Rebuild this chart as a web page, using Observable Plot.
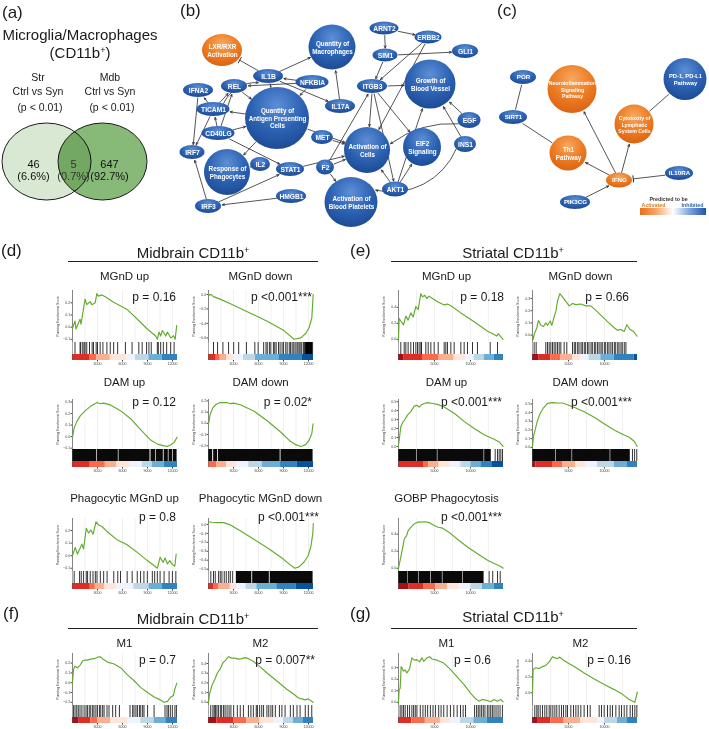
<!DOCTYPE html>
<html><head><meta charset="utf-8">
<script src="https://cdn.jsdelivr.net/npm/d3@7"></script>
<script src="https://cdn.jsdelivr.net/npm/@observablehq/plot@0.6"></script>
<style>
body{margin:0;background:#fff}
#root{position:relative;width:709px;height:729px;overflow:hidden;background:#fff;font-family:"Liberation Sans",Arial,sans-serif;color:#1a1a1a}
.t{position:absolute;white-space:nowrap;line-height:1}
sup{font-size:60%;vertical-align:0.55em;line-height:0}
</style></head><body><div id="root"></div>
<script>
const FONT = '"Liberation Sans", Arial, Helvetica, sans-serif';
const root = document.getElementById("root");

// ================= DATA =================
// (a) Venn
const vennSets = ["Str", "Mdb"];
const vennComparisons = ["Ctrl vs Syn", "Ctrl vs Syn"];
const vennThresholds = ["(p < 0.01)", "(p < 0.01)"];
const vennCounts = [46, 5, 647];
const vennPercents = ["6.6%", "0.7%", "92.7%"];

// (b) network: [id, label, x, y, w, h, prediction]
const bNodes = [
  ["LXR","LXR/RXR\nActivation",222,50,40,32,"act"],
  ["QMac","Quantity of\nMacrophages",332,47,47,45,"inh"],
  ["ARNT2","ARNT2",384,28,29,13,"inh"],
  ["ERBB2","ERBB2",428,37,27,13,"inh"],
  ["SIM1","SIM1",385,55,25,13,"inh"],
  ["GLI1","GLI1",465,51,26,14,"inh"],
  ["IL1B","IL1B",268,76,30,14,"inh"],
  ["NFKBIA","NFKBIA",312,82,33,14,"inh"],
  ["ITGB3","ITGB3",372,86,30,14,"inh"],
  ["GBV","Growth of\nBlood Vessel",430,84,51,49,"inh"],
  ["IFNA2","IFNA2",198,90,30,14,"inh"],
  ["REL","REL",234,86,26,14,"inh"],
  ["TICAM1","TICAM1",213,109,33,14,"inh"],
  ["QAPC","Quantity of\nAntigen Presenting\nCells",277,118,64,62,"inh"],
  ["IL17A","IL17A",340,106,30,14,"inh"],
  ["EGF","EGF",469,120,23,16,"inh"],
  ["CD40LG","CD40LG",218,133,33,14,"inh"],
  ["MET","MET",322,137,22,14,"inh"],
  ["ActC","Activation of\nCells",367,150,46,46,"inh"],
  ["EIF2","EIF2\nSignaling",422,147,38,38,"inh"],
  ["INS1","INS1",465,144,22,16,"inh"],
  ["IRF7","IRF7",192,152,25,14,"inh"],
  ["RespP","Response of\nPhagocytes",227,172,46,46,"inh"],
  ["IL2","IL2",260,164,20,14,"inh"],
  ["STAT1","STAT1",290,169,28,14,"inh"],
  ["F2","F2",325,167,18,15,"inh"],
  ["AKT1","AKT1",395,189,26,15,"inh"],
  ["ABP","Activation of\nBlood Platelets",351,202,53,50,"inh"],
  ["HMGB1","HMGB1",291,196,30,14,"inh"],
  ["IRF3","IRF3",208,206,26,14,"inh"]
];
// [from, to, kind (a=arrow, i=inhibits, l=line), bend]
const bEdges = [
  ["IL1B","QMac","a",0],["IL1B","LXR","i",0],["NFKBIA","IL1B","a",0],["IL1B","IL17A","a",0],
  ["NFKBIA","REL","a",0],["NFKBIA","QAPC","a",0],["IL1B","QAPC","a",0],["IL17A","QMac","a",0],
  ["TICAM1","IL1B","a",35],["TICAM1","REL","a",0],["REL","QAPC","a",0],["TICAM1","IFNA2","a",0],
  ["IFNA2","IRF7","a",0],["TICAM1","IRF7","a",0],["CD40LG","TICAM1","a",0],["CD40LG","REL","a",0],
  ["CD40LG","QAPC","a",0],["QAPC","TICAM1","a",0],["CD40LG","STAT1","a",0],["QAPC","RespP","a",0],
  ["QAPC","ActC","a",0],["IRF3","IRF7","a",0],["IRF3","STAT1","a",0],["HMGB1","IRF3","a",0],
  ["IL2","RespP","a",50],["STAT1","ActC","a",0],["MET","ActC","a",0],["F2","ABP","a",0],
  ["F2","ActC","a",0],["F2","ITGB3","a",0],["ITGB3","GBV","a",0],["ITGB3","ActC","a",0],
  ["ITGB3","AKT1","a",0],["ITGB3","EIF2","a",0],["SIM1","ITGB3","a",0],["SIM1","GLI1","a",0],
  ["ARNT2","SIM1","a",0],["ARNT2","ERBB2","a",0],["ERBB2","ITGB3","a",0],["ERBB2","ActC","a",0],
  ["EGF","GBV","a",0],["EGF","ActC","a",-20],["INS1","GBV","a",0],["INS1","ABP","a",40],
  ["AKT1","EIF2","a",0],["AKT1","GBV","a",0],["AKT1","ActC","a",0]
];

// (c) network
const cNodes = [
  ["POR","POR",523,77,26,14,"inh"],
  ["SIRT1","SIRT1",513,117,28,14,"inh"],
  ["Neuro","Neuroinflammation\nSignaling\nPathway",572,89,49,48,"act"],
  ["PD1","PD-1, PD-L1\nPathway",685,79,43,42,"inh"],
  ["Cyto","Cytotoxity of\nLymphatic\nSystem Cells",634,124,39,39,"act"],
  ["Th1","Th1\nPathway",568,153,37,35,"act"],
  ["IFNG","IFNG",619,180,26,15,"act"],
  ["IL10RA","IL10RA",679,173,28,14,"inh"],
  ["PIK3CG","PIK3CG",575,202,30,14,"inh"]
];
const cEdges = [
  ["POR","SIRT1","l",0],["SIRT1","Th1","l",0],["IFNG","Th1","a",0],["IFNG","Neuro","a",0],
  ["IFNG","Cyto","a",0],["PIK3CG","IFNG","a",0],["IL10RA","IFNG","i",0],["Cyto","PD1","l",0]
];
const legendLabels = ["Predicted to be", "Activated", "Inhibited"];

// GSEA common
const mbTicks = [3000, 6000, 9000, 12000];
const mbGrid = [1500, 3000, 4500, 6000, 7500, 9000, 10500, 12000];
const stTicks = [5000, 10000];
const stGrid = [2500, 5000, 7500, 10000, 12500];
const barColors = ["#a50f15","#de2d26","#fb6a4a","#fcae91","#fee5d9","#eff3ff","#bdd7e7","#6baed6","#3182bd","#08519c"];

// (d) Midbrain
const mbMGnDupCurve = [[0,-0.01],[300,0.05],[420,-0.015],[900,0.065],[1020,0.025],[1510,0.23],[1710,0.185],[2120,0.21],[2320,0.185],[2720,0.2],[2920,0.275],[3120,0.255],[3530,0.265],[3930,0.25],[4940,0.205],[6550,0.146],[8160,0.04],[8970,-0.015],[9980,-0.073],[10180,-0.1],[10380,-0.04],[10580,-0.073],[10790,-0.028],[11190,-0.073],[11390,-0.04],[11800,-0.09],[12120,-0.07],[12320,-0.1],[12500,0.012]];
const mbMGnDupHits = [300,910,990,1230,1390,1510,1710,2040,2360,2520,2840,3000,3320,3650,4130,4530,4940,5420,6350,7150,7960,8360,8890,9170,9450,10180,10300,10580,10900,11300,11780,12190];
const mbMGnDupDense = [];
const mbMGnDupBar = [0,0,2120,2920,4530,6550,7560,9170,10780,12600,12600];

const mbMGnDdownCurve = [[0,0.01],[120,-0.01],[300,0.0],[600,-0.03],[1400,-0.065],[3020,-0.15],[5030,-0.26],[7040,-0.37],[9060,-0.5],[10260,-0.62],[11070,-0.6],[11670,-0.54],[12080,-0.456],[12400,-0.326],[12560,0.0]];
const mbMGnDdownHits = [600,1090,1730,2410,3020,3620,4550,5560,5960,6620,6900,7050,7310,7480,7790,7950,8120,8400,8590,8830,9010,9270,9440,9690,9850,10040,10230,10400,10610,10740,10890,11080,11200,11410,11530,11720,11860,12010,12190,12350,12490];
const mbMGnDdownDense = [[11650,12500]];
const mbMGnDdownBar = [0,0,930,1410,2210,3020,4200,5640,8450,11270,12600];

const mbDAMupCurve = [[0,-0.005],[200,0.075],[520,0.13],[930,0.18],[1530,0.225],[2130,0.26],[2940,0.295],[3340,0.285],[3740,0.29],[4550,0.275],[5760,0.225],[6970,0.155],[8170,0.06],[9380,-0.03],[10190,-0.065],[10990,-0.08],[11390,-0.085],[11800,-0.07],[12200,-0.05],[12550,-0.005]];
const mbDAMupHits = [];
const mbDAMupDense = [[0,2900],[2980,5500],[5580,9300],[9420,10000],[10080,10900],[11000,11500],[11580,12000],[12080,12550]];
const mbDAMupBar = [0,0,2130,3940,5350,6970,8370,9580,10990,12600,12600];

const mbDAMdownCurve = [[0,-0.005],[200,0.08],[520,0.137],[930,0.17],[1410,0.185],[2210,0.185],[2620,0.175],[3020,0.18],[3820,0.166],[5430,0.11],[7040,0.023],[8650,-0.077],[9860,-0.163],[10460,-0.19],[11070,-0.206],[11670,-0.19],[12080,-0.15],[12400,-0.09],[12550,-0.005]];
const mbDAMdownHits = [];
const mbDAMdownDense = [[0,500],[620,1100],[1200,8600],[8700,12550]];
const mbDAMdownBar = [0,0,40,1000,2210,3420,4830,6440,8650,10660,12600];

const mbPhagUpCurve = [[0,0],[320,0.065],[600,0.013],[1130,0.092],[1330,0.053],[1650,0.218],[1930,0.18],[2210,0.205],[2460,0.17],[2820,0.27],[3140,0.245],[3540,0.232],[4150,0.192],[5350,0.126],[6560,0.087],[7770,0.026],[8980,-0.039],[9780,-0.078],[10180,-0.1],[10510,-0.013],[10870,-0.053],[11110,-0.018],[11390,-0.066],[11670,-0.039],[11990,-0.071],[12280,-0.084],[12440,0.013]];
const mbPhagUpHits = [200,850,1050,1330,1650,1810,2130,2460,2740,2940,3340,3740,4150,4950,5430,5760,6560,7160,7770,8170,8570,8980,9580,9860,10180,10510,10990,11590,11990,12400];
const mbPhagUpDense = [];
const mbPhagUpBar = [0,0,2130,2740,3900,5350,7360,9180,10800,12600,12600];

const mbPhagDownCurve = [[0,0.03],[400,0.025],[1000,0.02],[1810,0.02],[2620,-0.005],[3820,-0.07],[5430,-0.165],[7040,-0.26],[8650,-0.365],[9860,-0.455],[10340,-0.49],[10870,-0.475],[11470,-0.42],[11950,-0.35],[12280,-0.25],[12520,-0.1],[12580,0.01]];
const mbPhagDownHits = [280,600,810,1210,1410,1610,1890,2130,2420,2620,2900];
const mbPhagDownDense = [[3340,5200],[5300,7300],[7400,12550]];
const mbPhagDownBar = [0,0,600,1200,2620,3400,4500,5800,8200,10500,12600];

// (e) Striatal
const stMGnDupCurve = [[0,0],[90,0.26],[700,0.18],[1020,0.29],[1340,0.24],[1710,0.33],[2040,0.28],[2410,0.41],[2730,0.37],[3110,0.57],[3340,0.53],[3660,0.55],[3940,0.51],[4260,0.54],[4730,0.51],[5420,0.47],[6350,0.43],[6810,0.44],[7280,0.42],[8670,0.33],[10520,0.22],[12380,0.1],[13300,0.06],[13670,0.04],[13860,0.07],[14550,0.0]];
const stMGnDupHits = [320,790,1020,1340,1710,2090,2410,2640,2870,3110,3200,3800,4130,4500,4960,5520,6350,6580,6810,7280,7740,8670,9130,9590,10290,10980,12750,13770];
const stMGnDupDense = [];
const stMGnDupBar = [0,790,3340,5650,7740,9360,10520,11910,13300,14600,14600];

const stMGnDdownCurve = [[0,0],[100,-0.035],[230,0.005],[600,0.06],[830,0.12],[1160,0.08],[1530,0.07],[1850,0.1],[2090,0.08],[2460,0.115],[2690,0.08],[3010,0.15],[3240,0.19],[3480,0.28],[3800,0.34],[4080,0.32],[4400,0.295],[5100,0.24],[5560,0.26],[6030,0.25],[6720,0.255],[7420,0.24],[8110,0.24],[9040,0.19],[10430,0.11],[11360,0.06],[11820,0.04],[12280,0.045],[12750,0.03],[13120,0.085],[13580,0.045],[14040,0.03],[14550,-0.01]];
const stMGnDdownHits = [230,510,1850,2090,2320,2550,2780,3010,3240,3480,3710,3940,4400,4770,5560,5810,6000,6280,6470,6750,6930,7200,7390,7660,7850,8140,8320,8600,8790,9050,9260,9520,9700,9990,10180,10450,10640,10900,11110,11380,11570,11850,12030,12300,12480,12760,12990];
const stMGnDdownDense = [];
const stMGnDdownBar = [0,930,2550,3940,5560,6720,7880,9500,11360,14140,14600];

const stDAMupCurve = [[0,0.01],[140,0.1],[320,0.22],[600,0.27],[880,0.3],[1250,0.35],[1710,0.39],[2180,0.45],[2550,0.46],[2870,0.44],[3200,0.465],[3570,0.48],[4030,0.49],[4730,0.48],[5420,0.47],[6350,0.44],[7740,0.37],[9130,0.28],[10520,0.2],[11910,0.13],[13300,0.08],[14000,0.05],[14550,0.0]];
const stDAMupHits = [13440,13770,14000,14230,14460];
const stDAMupDense = [[0,2500],[2580,5400],[5480,11900],[11980,12900]];
const stDAMupBar = [0,0,3570,4200,5650,7280,8670,10060,11450,13070,14600];

const stDAMdownCurve = [[0,0.01],[140,0.13],[370,0.2],[700,0.31],[1070,0.39],[1530,0.455],[2090,0.505],[2780,0.515],[3480,0.51],[4170,0.51],[4870,0.49],[5790,0.46],[7190,0.41],[8580,0.345],[9970,0.27],[11360,0.2],[12520,0.15],[13440,0.115],[14140,0.07],[14550,0.01]];
const stDAMdownHits = [13900,14200,14500];
const stDAMdownDense = [[0,3200],[3280,5500],[5580,10800],[10880,13600]];
const stDAMdownBar = [0,460,2780,4170,6030,7420,9040,11360,13210,14500,14600];

const stPhagoCurve = [[0,0],[230,0.095],[560,0.23],[790,0.34],[1110,0.38],[1340,0.44],[1710,0.48],[2180,0.52],[2640,0.54],[3110,0.54],[3660,0.545],[4260,0.535],[4960,0.5],[5520,0.48],[6120,0.47],[7050,0.42],[8200,0.34],[9590,0.25],[10980,0.17],[12380,0.095],[13300,0.055],[14230,0.02],[14550,0.0]];
const stPhagoHits = [12600,13100,13770,14140];
const stPhagoDense = [[0,1250],[1320,2800],[2870,4500],[4580,6100],[6180,8900],[8980,11900]];
const stPhagoBar = [0,1480,3570,5190,6810,8440,10060,11680,13300,14600,14600];

// (f) Midbrain M1/M2
const mbM1Curve = [[0,0],[120,0.13],[280,0.17],[600,0.15],[920,0.18],[1200,0.22],[1400,0.23],[1800,0.23],[2200,0.24],[2600,0.245],[3000,0.26],[3320,0.265],[3600,0.245],[4200,0.21],[5000,0.19],[5800,0.15],[6600,0.08],[7400,0.02],[8200,-0.05],[9000,-0.1],[9800,-0.145],[10400,-0.17],[11000,-0.2],[11400,-0.19],[11800,-0.145],[12120,-0.13],[12280,-0.065],[12520,-0.005]];
const mbM1Hits = [110,300,510,690,900,1130,1390,1620,1790,2010,2190,2420,2580,2810,2990,3230,3390,3620,3790,4140,4380,4820,5180,5630,6900,7220,7380,7610,7790,8030,8190,8420,8580,9010,9790,11100,11340,11510,11740,11980,12290,12470];
const mbM1Dense = [];
const mbM1Bar = [0,800,2200,3000,4600,6600,8200,9800,11200,12600,12600];

const mbM2Curve = [[0,0],[120,0.085],[400,0.17],[800,0.245],[1080,0.305],[1400,0.345],[1720,0.405],[2000,0.43],[2400,0.47],[2800,0.455],[3200,0.455],[3600,0.445],[4000,0.45],[4400,0.46],[4800,0.45],[5400,0.42],[6200,0.365],[7000,0.305],[8200,0.22],[9400,0.135],[10200,0.085],[10800,0.045],[11200,0.035],[11600,0.025],[12000,0.035],[12280,0.015],[12560,0.0]];
const mbM2Hits = [270,530,690,830,1010,1190,1420,1580,1810,1990,2230,2470,2690,3020,3460,3810,4190,4790,5090,5380,5730,5870,6140,6390,6610,7010,7230,7490,7700,8020,8510,8810,9190,9820,10180,10620,10990,11610,11980,12390];
const mbM2Dense = [];
const mbM2Bar = [0,1000,3000,4600,6200,7800,9000,10200,11400,12600,12600];

// (g) Striatal M1/M2
const stM1Curve = [[0,0],[90,0.11],[230,0.12],[370,0.31],[700,0.27],[930,0.28],[1160,0.255],[1540,0.29],[1860,0.385],[2190,0.365],[2560,0.37],[2930,0.35],[3260,0.385],[3500,0.355],[3960,0.385],[4330,0.395],[4660,0.375],[5360,0.365],[6290,0.34],[7220,0.285],[8150,0.22],[9090,0.155],[10020,0.08],[10720,0.03],[11180,0.01],[11650,0.025],[12350,0.015],[12820,0.005],[13280,0.025],[13750,0.01],[14210,0.025],[14550,0.005]];
const stM1Hits = [230,470,700,930,1260,1540,1860,2100,2330,2560,3030,3400,3730,4050,4430,4800,5130,5590,5920,6290,6760,7220,7690,8160,8620,8990,9320,10580,10860,11090,11320,11560,11790,12020,12350,12580,12820,13050,13280,13560,13840,14120,14450];
const stM1Dense = [];
const stM1Bar = [0,0,1860,3730,5830,7220,8620,10480,12350,14600,14600];

const stM2Curve = [[0,0],[90,0.295],[460,0.315],[930,0.305],[1390,0.33],[1850,0.345],[2320,0.39],[2780,0.455],[3110,0.44],[3480,0.43],[3800,0.45],[4170,0.42],[4870,0.38],[5790,0.33],[7190,0.25],[8580,0.175],[9970,0.105],[11360,0.04],[12520,-0.02],[13440,-0.085],[14230,-0.12],[14580,0.01]];
const stM2Hits = [320,600,790,1070,1390,1710,1990,2320,2550,2830,3110,3380,3710,4030,4310,4640,4870,5330,5700,6030,6350,6720,7180,7650,8020,9270,9590,9970,10430,10800,11120,11590,12050,12380,12750,13120,13580,13900,14230,14510];
const stM2Dense = [];
const stM2Bar = [0,700,2550,4400,6720,9040,10000,11820,13210,14600,14600];

// ================= HELPERS =================
function place(el, x, y) { el.style.position = "absolute"; el.style.left = x + "px"; el.style.top = y + "px"; root.appendChild(el); return el; }
function txt(html, x, y, size, anchor = "middle", extra = {}) {
  const d = document.createElement("div"); d.className = "t"; d.innerHTML = html;
  d.style.fontSize = size + "px"; d.style.left = x + "px"; d.style.top = y + "px";
  const tx = anchor === "middle" ? "-50%" : anchor === "end" ? "-100%" : "0";
  d.style.transform = `translate(${tx},-50%)`;
  Object.assign(d.style, extra); root.appendChild(d); return d;
}
function hrule(x1, x2, y) { const d = document.createElement("div"); Object.assign(d.style, {position:"absolute", left:x1+"px", top:(y-0.75)+"px", width:(x2-x1)+"px", height:"0", borderTop:"1.5px solid #222"}); root.appendChild(d); }

// ================= (a) VENN =================
txt("(a)", 2, 12, 17, "start");
txt("Microglia/Macrophages", 80, 34, 15);
txt("(CD11b<sup>+</sup>)", 80, 52, 15);
[[38, 0], [110, 1]].forEach(([cx, i]) => {
  txt(vennSets[i], cx, 77, 10.5);
  txt(vennComparisons[i], cx, 91, 10.5);
  txt(vennThresholds[i], cx + 2, 107, 10.5);
});
const vennShapes = [
  {cx: 46.5, cy: 161.5, rx: 44.5, ry: 38.5, fill: "#d9e8d2"},
  {cx: 102.5, cy: 161.5, rx: 44.5, ry: 38.5, fill: "#87b978"}
];
const vennLabels = vennCounts.map((c, i) => ({x: [33, 73, 109][i], y: 169.5, text: `${c}\n(${vennPercents[i]})`, fill: i === 1 ? "#333" : "#111"}));
const venn = Plot.plot({
  width: 180, height: 240, margin: 0,
  x: {domain: [0, 180], axis: null}, y: {domain: [0, 240], reverse: true, axis: null},
  color: {type: "identity"},
  style: {background: "transparent", overflow: "visible", fontFamily: FONT},
  marks: [
    Plot.rect(vennShapes, {x1: d => d.cx - d.rx, x2: d => d.cx + d.rx, y1: d => d.cy - d.ry, y2: d => d.cy + d.ry, rx: 300, ry: 300, fill: d => d.fill, stroke: "#1a1a1a", strokeWidth: 1, mixBlendMode: "multiply"}),
    Plot.text(vennLabels, {x: "x", y: "y", text: "text", fill: "fill", fontSize: 11, lineHeight: 1.15})
  ]
});
place(venn, 0, 0);

// ================= (b)+(c) NETWORKS =================
txt("(b)", 180, 10, 17, "start");
txt("(c)", 497, 10, 17, "start");
const toNode = r => ({id: r[0], label: r[1], x: r[2], y: r[3], w: r[4], h: r[5], state: r[6]});
const nodes = [...bNodes, ...cNodes].map(toNode);
const nodeMap = new Map(nodes.map(n => [n.id, n]));
function boundary(n, tx, ty, gap = 0) {
  const dx = tx - n.x, dy = ty - n.y, a = n.w / 2 + gap, b = n.h / 2 + gap;
  const t = 1 / Math.sqrt((dx / a) ** 2 + (dy / b) ** 2);
  return [n.x + dx * t, n.y + dy * t];
}
const edges = [...bEdges, ...cEdges].map(([f, t, kind, bend]) => {
  const a = nodeMap.get(f), b = nodeMap.get(t);
  const [x1, y1] = boundary(a, b.x, b.y, 0.5);
  const [x2, y2] = boundary(b, a.x, a.y, 1);
  return {x1, y1, x2, y2, kind, bend};
});
const bars = edges.filter(e => e.kind === "i").map(e => {
  const L = Math.hypot(e.x2 - e.x1, e.y2 - e.y1), ux = (e.x2 - e.x1) / L, uy = (e.y2 - e.y1) / L;
  return {x1: e.x2 - uy * 3.5, y1: e.y2 + ux * 3.5, x2: e.x2 + uy * 3.5, y2: e.y2 - ux * 3.5};
});
const bendValues = [...new Set(edges.filter(e => e.kind === "a").map(e => e.bend))];
const edgeStyle = {stroke: "#2a2a2a", strokeWidth: 0.8};
const legendBar = [{x1: 640, x2: 706, y1: 208, y2: 215}];
const legendPos = [{x: 668, y: 198.5, fill: "#333"}, {x: 653, y: 204.3, fill: "#e8731c"}, {x: 692, y: 204.3, fill: "#2d62b3"}];
const isFn = n => n.w > 34;
const net = Plot.plot({
  width: 529, height: 240, margin: 0,
  x: {domain: [180, 709], axis: null}, y: {domain: [0, 240], reverse: true, axis: null},
  style: {background: "transparent", overflow: "visible", fontFamily: FONT},
  marks: [
    ...bendValues.map(bv => Plot.arrow(edges.filter(e => e.kind === "a" && e.bend === bv), {x1: "x1", y1: "y1", x2: "x2", y2: "y2", bend: bv, headLength: 4.5, headAngle: 50, ...edgeStyle})),
    Plot.link(edges.filter(e => e.kind !== "a"), {x1: "x1", y1: "y1", x2: "x2", y2: "y2", ...edgeStyle}),
    Plot.link(bars, {x1: "x1", y1: "y1", x2: "x2", y2: "y2", stroke: "#2a2a2a", strokeWidth: 1}),
    Plot.rect(nodes.filter(n => n.state === "inh"), {x1: d => d.x - d.w / 2, x2: d => d.x + d.w / 2, y1: d => d.y - d.h / 2, y2: d => d.y + d.h / 2, rx: 200, ry: 200, fill: "url(#gBlue)"}),
    Plot.rect(nodes.filter(n => n.state === "act"), {x1: d => d.x - d.w / 2, x2: d => d.x + d.w / 2, y1: d => d.y - d.h / 2, y2: d => d.y + d.h / 2, rx: 200, ry: 200, fill: "url(#gOrange)"}),
    Plot.text(nodes.filter(n => !isFn(n)), {x: "x", y: "y", text: "label", fill: "white", fontWeight: "bold", fontSize: d => d.x > 480 ? 6.2 : 6.7}),
    Plot.text(nodes.filter(isFn), {x: "x", y: "y", text: "label", fill: "white", fontWeight: "bold", lineHeight: 1.2, fontSize: d => d.id === "Neuro" || d.id === "Cyto" ? 5.2 : d.id === "PD1" ? 5.8 : 6.3}),
    Plot.rect(legendBar, {x1: "x1", x2: "x2", y1: "y1", y2: "y2", fill: "url(#gLegend)"}),
    Plot.text(legendLabels, {x: (d, i) => legendPos[i].x, y: (d, i) => legendPos[i].y, fill: (d, i) => legendPos[i].fill, fontSize: 5.3, fontWeight: "bold"})
  ],
  color: {type: "identity"}
});
{
  const defs = d3.select(net).insert("defs", ":first-child");
  const radial = (id, stops) => {
    const g = defs.append("radialGradient").attr("id", id).attr("cx", "50%").attr("cy", "30%").attr("r", "75%");
    stops.forEach(([o, c]) => g.append("stop").attr("offset", o).attr("stop-color", c));
  };
  radial("gBlue", [["0%", "#5d8fd6"], ["55%", "#2b61b2"], ["100%", "#1b4790"]]);
  radial("gOrange", [["0%", "#f8a85e"], ["55%", "#ec7a23"], ["100%", "#d8600f"]]);
  const lg = defs.append("linearGradient").attr("id", "gLegend");
  [["0%", "#e8701a"], ["25%", "#f4a86a"], ["50%", "#ffffff"], ["75%", "#7ea3dc"], ["100%", "#1f55ad"]].forEach(([o, c]) => lg.append("stop").attr("offset", o).attr("stop-color", c));
}
place(net, 180, 0);

// ================= GSEA panels =================
const cols = {d1: [72, 177], d2: [208, 313], e1: [398, 503], e2: [532, 637]};
const rows = {r1: {yt: 290, yb: 342, title: 277, p: 297}, r2: {yt: 399, yb: 449, title: 383, p: 402}, r3: {yt: 518, yb: 571, title: 499, p: 517}, r4: {yt: 653, yb: 705, title: 644, p: 660}};
const panels = [
  {set: "mb", curve: mbMGnDupCurve, hits: mbMGnDupHits, dense: mbMGnDupDense, bar: mbMGnDupBar, yTicks: [-0.1, 0, 0.1, 0.2], title: "MGnD up", p: "p = 0.16", col: "d1", row: "r1"},
  {set: "mb", curve: mbMGnDdownCurve, hits: mbMGnDdownHits, dense: mbMGnDdownDense, bar: mbMGnDdownBar, yTicks: [-0.6, -0.4, -0.2, 0], title: "MGnD down", p: "p &lt;0.001***", col: "d2", row: "r1"},
  {set: "mb", curve: mbDAMupCurve, hits: mbDAMupHits, dense: mbDAMupDense, bar: mbDAMupBar, yTicks: [-0.1, 0, 0.1, 0.2, 0.3], title: "DAM up", p: "p = 0.12", col: "d1", row: "r2"},
  {set: "mb", curve: mbDAMdownCurve, hits: mbDAMdownHits, dense: mbDAMdownDense, bar: mbDAMdownBar, yTicks: [-0.2, -0.1, 0, 0.1, 0.2], title: "DAM down", p: "p = 0.02*", col: "d2", row: "r2"},
  {set: "mb", curve: mbPhagUpCurve, hits: mbPhagUpHits, dense: mbPhagUpDense, bar: mbPhagUpBar, yTicks: [-0.1, 0, 0.1, 0.2], title: "Phagocytic MGnD up", p: "p = 0.8", col: "d1", row: "r3"},
  {set: "mb", curve: mbPhagDownCurve, hits: mbPhagDownHits, dense: mbPhagDownDense, bar: mbPhagDownBar, yTicks: [-0.5, -0.4, -0.3, -0.2, -0.1, 0], title: "Phagocytic MGnD down", p: "p &lt;0.001***", col: "d2", row: "r3", pdx: 7},
  {set: "st", curve: stMGnDupCurve, hits: stMGnDupHits, dense: stMGnDupDense, bar: stMGnDupBar, yTicks: [0, 0.2, 0.4], title: "MGnD up", p: "p = 0.18", col: "e1", row: "r1", pdx: 2},
  {set: "st", curve: stMGnDdownCurve, hits: stMGnDdownHits, dense: stMGnDdownDense, bar: stMGnDdownBar, yTicks: [0, 0.1, 0.2, 0.3], title: "MGnD down", p: "p = 0.66", col: "e2", row: "r1", pdx: -7},
  {set: "st", curve: stDAMupCurve, hits: stDAMupHits, dense: stDAMupDense, bar: stDAMupBar, yTicks: [0, 0.1, 0.2, 0.3, 0.4, 0.5], title: "DAM up", p: "p &lt;0.001***", col: "e1", row: "r2"},
  {set: "st", curve: stDAMdownCurve, hits: stDAMdownHits, dense: stDAMdownDense, bar: stDAMdownBar, yTicks: [0, 0.1, 0.2, 0.3, 0.4, 0.5], title: "DAM down", p: "p &lt;0.001***", col: "e2", row: "r2", pdx: -4},
  {set: "st", curve: stPhagoCurve, hits: stPhagoHits, dense: stPhagoDense, bar: stPhagoBar, yTicks: [0, 0.2, 0.4], title: "GOBP Phagocytosis", p: "p &lt;0.001***", col: "e1", row: "r3"},
  {set: "mb", curve: mbM1Curve, hits: mbM1Hits, dense: mbM1Dense, bar: mbM1Bar, yTicks: [-0.2, -0.1, 0, 0.1, 0.2], title: "M1", p: "p = 0.7", col: "d1", row: "r4"},
  {set: "mb", curve: mbM2Curve, hits: mbM2Hits, dense: mbM2Dense, bar: mbM2Bar, yTicks: [0, 0.1, 0.2, 0.3, 0.4], title: "M2", p: "p = 0.007**", col: "d2", row: "r4", pdx: 3},
  {set: "st", curve: stM1Curve, hits: stM1Hits, dense: stM1Dense, bar: stM1Bar, yTicks: [0, 0.1, 0.2, 0.3], title: "M1", p: "p = 0.6", col: "e1", row: "r4", pdx: -11},
  {set: "st", curve: stM2Curve, hits: stM2Hits, dense: stM2Dense, bar: stM2Bar, yTicks: [0, 0.2, 0.4], title: "M2", p: "p = 0.16", col: "e2", row: "r4", pdx: -5}
];

function gsea(s) {
  const [X0, X1] = cols[s.col], R = rows[s.row];
  const ml = 22, W = X1 - X0 + ml, x0 = X0 - ml;
  const xmax = s.set === "mb" ? 12600 : 14600;
  const xt = s.set === "mb" ? mbTicks : stTicks;
  const grid = s.set === "mb" ? mbGrid : stGrid;
  const ys = s.curve.map(d => d[1]);
  const lo = d3.min(ys), hi = d3.max(ys), pad = (hi - lo) * 0.07;
  const style = {fontFamily: FONT, fontSize: "3.6px", background: "transparent", overflow: "visible", color: "#444"};
  const top = Plot.plot({
    width: W, height: R.yb - R.yt, marginLeft: ml, marginRight: 0, marginTop: 0, marginBottom: 0, style,
    x: {domain: [0, xmax], axis: null},
    y: {domain: [lo - pad, hi + pad], ticks: s.yTicks, tickSize: 1.5, tickPadding: 0.8, tickFormat: d3.format(".1f"), label: null},
    marks: [
      Plot.ruleX(grid, {stroke: "#e6e6e6", strokeWidth: 0.6}),
      Plot.ruleX([0], {stroke: "#333", strokeWidth: 0.6}),
      Plot.line(s.curve, {x: d => d[0], y: d => d[1], stroke: "#62ab2c", strokeWidth: 1.15}),
      Plot.text(["Running Enrichment Score"], {frameAnchor: "left", textAnchor: "middle", rotate: -90, dx: -15, fontSize: 3.4, fill: "#444"})
    ]
  });
  place(top, x0, R.yt);
  const segs = barColors.map((c, i) => ({x1: s.bar[i], x2: s.bar[i + 1], fill: c})).filter(d => d.x2 > d.x1);
  const bot = Plot.plot({
    width: W, height: 26, marginLeft: ml, marginRight: 0, marginTop: 0, marginBottom: 8, style,
    x: {domain: [0, xmax], ticks: xt, tickSize: 1.5, tickPadding: 0.8, tickFormat: d => String(d), label: null},
    y: {domain: [0, 18], axis: null},
    color: {type: "identity"},
    marks: [
      Plot.rect(s.dense, {x1: d => d[0], x2: d => d[1], y1: 6, y2: 18, fill: "#0a0a0a"}),
      Plot.ruleX(s.hits, {y1: 6, y2: 18, stroke: "#000", strokeWidth: 0.8}),
      Plot.rect(segs, {x1: "x1", x2: "x2", y1: 0, y2: 6, fill: "fill"}),
      Plot.ruleX([0], {y1: 0, y2: 18, stroke: "#555", strokeWidth: 0.5})
    ]
  });
  place(bot, x0, R.yb);
  const tdx = s.col[0] === "e" ? -4 : 0;
  txt(s.title, (X0 + X1) / 2 + tdx, R.title, 11.5);
  txt(s.p, X1 - 1 + (s.pdx || 0), R.p, 12, "end");
}

// Section headings
txt("(d)", 1, 250, 17, "start");
txt("Midbrain CD11b<sup>+</sup>", 193, 252, 15); hrule(68, 318, 262);
txt("(e)", 350, 250, 17, "start");
txt("Striatal CD11b<sup>+</sup>", 513, 252, 15); hrule(391, 637, 262);
txt("(f)", 3, 613, 17, "start");
txt("Midbrain CD11b<sup>+</sup>", 193, 618, 15); hrule(68, 318, 629);
txt("(g)", 350, 613, 17, "start");
txt("Striatal CD11b<sup>+</sup>", 513, 616, 15); hrule(391, 637, 629);

panels.forEach(gsea);
</script></body></html>
